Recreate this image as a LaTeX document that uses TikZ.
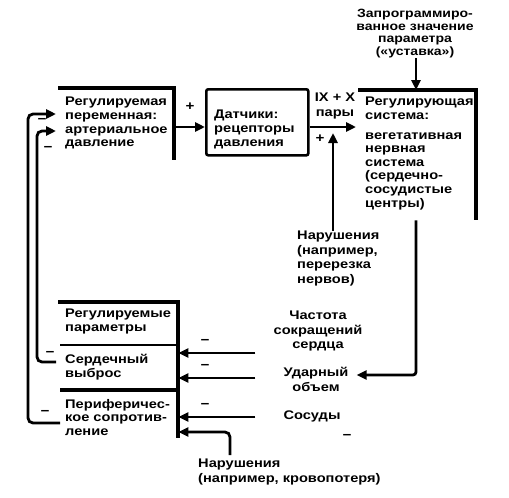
\documentclass[tikz,border=0pt]{standalone}
\usepackage{fontspec}
\setmainfont{Liberation Sans}[FakeStretch=1.17]
\usetikzlibrary{arrows.meta}
\begin{document}
\begin{tikzpicture}[x=1pt,y=-1pt,
  lab/.style={inner sep=0pt, align=left, anchor=north west, font=\fontsize{12.5}{13.6}\selectfont\bfseries},
  clab/.style={inner sep=0pt, align=center, font=\fontsize{12.5}{14.5}\selectfont\bfseries},
  sgn/.style={inner sep=0pt, font=\fontsize{13}{13}\selectfont\bfseries},
  box/.style={inner sep=0pt, anchor=north west},
  thick edge/.style={line width=4pt},
  conn/.style={line width=2.8pt, -{Triangle[length=10pt,width=9pt]}},
]
\useasboundingbox (0,0) rectangle (509,498);
% coordinates for connector rows
\coordinate (r1) at (0,127);
\coordinate (fa) at (0,114);
\coordinate (fb) at (0,131);
\coordinate (fo) at (28,0);
\coordinate (fi) at (37,0);
\coordinate (ya) at (0,423);
\coordinate (yb) at (0,362);
\coordinate (y1) at (0,353);
\coordinate (y2) at (0,378);
\coordinate (y3) at (0,417);
\coordinate (y4) at (0,432);
\coordinate (yU) at (0,375);
\coordinate (cx) at (416,0);
\coordinate (vx) at (333,0);
\coordinate (tip1) at (333,133);
\coordinate (dx) at (230,0);
% boxes
\node[box, minimum width=116pt, minimum height=72pt] (A) at (58,88) {};
\draw[thick edge] (A.north west) -- (A.north east) -- (A.south east);
\node[lab] (At) at (65,97) {Регулируемая\\переменная:\\артериальное\\давление};

\node[box, minimum width=102pt, minimum height=66pt, draw, line width=2.6pt, rounded corners=2pt] (B) at (205,88) {};
\node[lab] (Bt) at (214,110) {Датчики:\\рецепторы\\давления};

\node[box, minimum width=118pt, minimum height=130pt] (C) at (358,90) {};
\draw[thick edge] (C.north west) -- (C.north east) -- (C.south east);
\node[lab] (Ct) at (365,97) {Регулирующая\\система:\\[6pt]вегетативная\\нервная\\система\\(сердечно-\\сосудистые\\центры)};

\node[box, minimum width=120pt, minimum height=136pt] (D) at (58,302) {};
\draw[thick edge] (D.north west) -- (D.north east) -- (D.south east);
\draw[line width=2pt] (60,345) -- (D.east |- 0,345);
\draw[line width=3.5pt] (60,390) -- (D.east |- 0,390);
\node[lab] (D1) at (65,309) {Регулируемые\\параметры};
\node[lab] (D2) at (65,354) {Сердечный\\выброс};
\node[lab] (D3) at (65,399) {Периферичес-\\кое сопротив-\\ление};

% labels
\node[clab, anchor=north, font=\fontsize{12}{12.6}\selectfont\bfseries] (S) at (415,9) {Запрограммиро-\\ванное значение\\параметра\\(«уставка»)};
\node[clab] (IX) at (335,106) {IX + X\\пары};
\node[lab, font=\fontsize{12.5}{14.5}\selectfont\bfseries] (N1) at (297,231) {Нарушения\\(например,\\перерезка\\нервов)};
\node[clab, anchor=north] (F) at (318,311) {Частота\\сокращений\\сердца};
\node[clab, anchor=north] (U) at (316,367) {Ударный\\объем};
\node[clab, anchor=north] (V) at (312,411) {Сосуды};
\node[lab, font=\fontsize{12.5}{14.5}\selectfont\bfseries] (N2) at (198,459) {Нарушения\\(например, кровопотеря)};

% signs
\node[sgn] (p1) at (190,107) {+};
\node[sgn] (p2) at (320,139) {+};
\node[sgn] (m1) at (42,121) {−};
\node[sgn] (m2) at (48,149) {−};
\node[sgn] (m3) at (50,354) {−};
\node[sgn] (m4) at (45,413) {−};
\node[sgn] (m5) at (205,342) {−};
\node[sgn] (m6) at (205,367) {−};
\node[sgn] (m7) at (205,406) {−};
\node[sgn] (m8) at (347,437) {−};

% connectors
\draw[conn] (A.east |- r1) -- (B.west |- r1);
\draw[conn] (B.east |- r1) -- ([xshift=-2pt]C.west |- r1);
\draw[conn] (S.south -| cx) -- (C.north -| cx);
\draw[conn] (N1.north -| vx) -- (tip1);
\draw[conn, rounded corners=3pt] (C.south -| cx) -- (cx |- yU) -- ([xshift=8pt]U.east |- yU);
\draw[conn] ([xshift=-18pt]F.west |- y1) -- (D.east |- y1);
\draw[conn] ([xshift=-18pt]F.west |- y2) -- (D.east |- y2);
\draw[conn] ([xshift=-18pt]F.west |- y3) -- (D.east |- y3);
\draw[conn, rounded corners=5pt] ([yshift=4pt]N2.north -| dx) -- (dx |- y4) -- (D.east |- y4);
\draw[conn, rounded corners=5pt] ([xshift=2pt]D.west |- ya) -- (fo |- ya) -- (fo |- fa) -- ([xshift=-2pt]A.west |- fa);
\draw[conn, rounded corners=5pt] ([xshift=-2pt]D.west |- yb) -- (fi |- yb) -- (fi |- fb) -- ([xshift=-2pt]A.west |- fb);
\end{tikzpicture}
\end{document}
